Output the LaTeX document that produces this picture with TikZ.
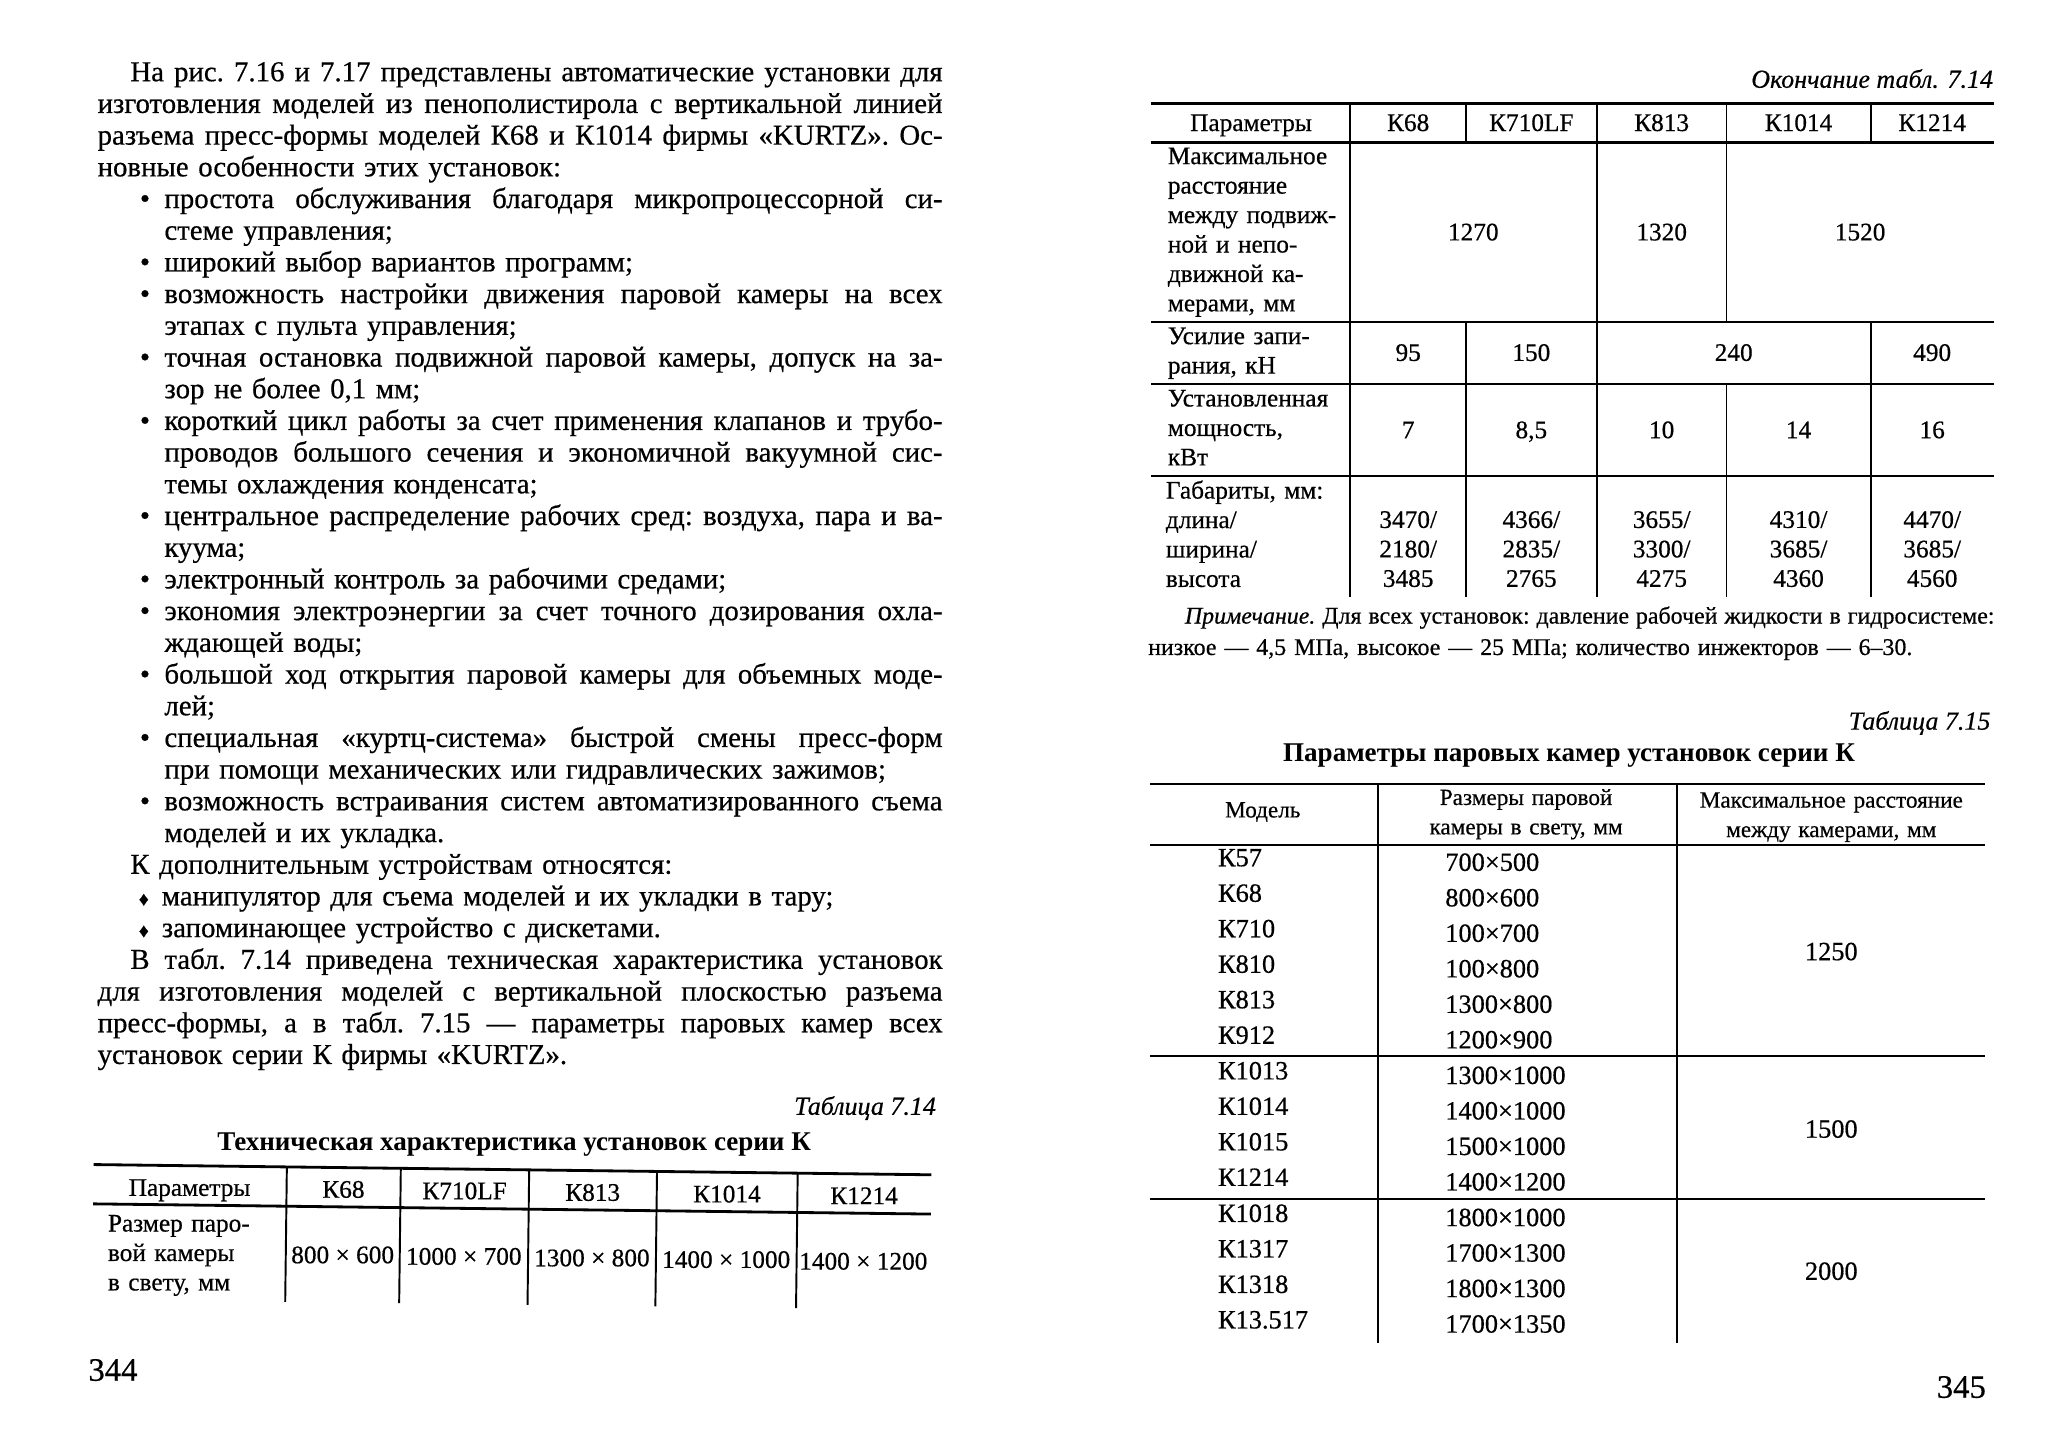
\documentclass[tikz,border=0pt]{standalone}
\usepackage{fontspec}
\setmainfont{Liberation Serif}[UprightFeatures={FakeBold=0.5}, ItalicFeatures={FakeBold=0.5}]
\usepackage{tikz}

\newlength{\px}
\setlength{\px}{0.131mm}
\newcommand{\bodyfont}{\fontsize{8.2}{9.02}\selectfont\frenchspacing}
\newcommand{\tabfont}{\fontsize{7.2}{8.38}\selectfont\frenchspacing}
\newcommand{\headfont}{\fontsize{6.6}{8.38}\selectfont}
\newcommand{\rowfont}{\fontsize{7.5}{10.1}\selectfont}
\newcommand{\notefont}{\fontsize{6.8}{8.94}\selectfont\frenchspacing}
\newcommand{\capfont}{\fontsize{7.4}{8.6}\selectfont\itshape}
\newcommand{\titlefont}{\fontsize{7.7}{9}\selectfont\bfseries}
\newcommand{\pagefont}{\fontsize{9.3}{11}\selectfont}
\newcommand{\natsp}{\spaceskip=0pt\xspaceskip=0pt\relax}
\newcommand{\jl}[2]{\makebox[#1\px][s]{\natsp #2}}
\newcommand{\bl}{\leavevmode\llap{\textbullet\hspace{11\px}}}
\newcommand{\dl}{\leavevmode\llap{{\fontsize{5.5}{6}\selectfont ♦}\hspace{10\px}}}

\tikzstyle{textBlock}=[anchor=base west, inner sep=0pt, text width=660\px, font=\bodyfont]
\tikzstyle{captionText}=[anchor=base east, inner sep=0pt, font=\capfont]
\tikzstyle{titleText}=[anchor=base, inner sep=0pt, font=\titlefont]
\tikzstyle{cellText}=[anchor=base, inner sep=0pt, font=\tabfont]
\tikzstyle{cellLeft}=[anchor=base west, inner sep=0pt, text width=150\px, font=\tabfont]
\tikzstyle{cellStack}=[anchor=base, inner sep=0pt, text width=70\px, font=\tabfont]
\tikzstyle{headStack}=[anchor=base, inner sep=0pt, text width=230\px, font=\headfont]
\tikzstyle{rowList}=[anchor=base west, inner sep=0pt, text width=120\px, font=\rowfont]
\tikzstyle{pageNum}=[inner sep=0pt, font=\pagefont]
\tikzstyle{ruleLine}=[line width=0.8pt]
\tikzstyle{gridLine}=[line width=0.55pt]

\begin{document}
\begin{tikzpicture}[x=0.131mm, y=-0.131mm]

        \fill[white] (0,0) rectangle (1568,1105);
        \useasboundingbox (0,0) rectangle (1568,1105);

        % Left page, running text
        \node[textBlock] (introPara) at (74,62) {\hspace*{25\px}\jl{620}{На рис. 7.16 и 7.17 представлены автоматические установки для}\\
            \jl{645}{изготовления моделей из пенополистирола с вертикальной линией}\\
            \jl{645}{разъема пресс-формы моделей К68 и К1014 фирмы «KURTZ». Ос-}\\
            новные особенности этих установок:};

        \node[textBlock] (featureList) at (125,158.8) {\bl\jl{594}{простота обслуживания благодаря микропроцессорной си-}\\
            стеме управления;\\
            \bl широкий выбор вариантов программ;\\
            \bl\jl{594}{возможность настройки движения паровой камеры на всех}\\
            этапах с пульта управления;\\
            \bl\jl{594}{точная остановка подвижной паровой камеры, допуск на за-}\\
            зор не более 0,1 мм;\\
            \bl\jl{594}{короткий цикл работы за счет применения клапанов и трубо-}\\
            \jl{594}{проводов большого сечения и экономичной вакуумной сис-}\\
            темы охлаждения конденсата;\\
            \bl\jl{594}{центральное распределение рабочих сред: воздуха, пара и ва-}\\
            куума;\\
            \bl электронный контроль за рабочими средами;\\
            \bl\jl{594}{экономия электроэнергии за счет точного дозирования охла-}\\
            ждающей воды;\\
            \bl\jl{594}{большой ход открытия паровой камеры для объемных моде-}\\
            лей;\\
            \bl\jl{594}{специальная «куртц-система» быстрой смены пресс-форм}\\
            при помощи механических или гидравлических зажимов;\\
            \bl\jl{594}{возможность встраивания систем автоматизированного съема}\\
            моделей и их укладка.};

        \node[textBlock] (extraHead) at (99,667) {К дополнительным устройствам относятся:};
        \node[textBlock] (extraList) at (123,691.2) {\dl манипулятор для съема моделей и их укладки в тару;\\
            \dl запоминающее устройство с дискетами.};

        \node[textBlock] (closePara) at (74,739.6) {\hspace*{25\px}\jl{620}{В табл. 7.14 приведена техническая характеристика установок}\\
            \jl{645}{для изготовления моделей с вертикальной плоскостью разъема}\\
            \jl{645}{пресс-формы, а в табл. 7.15 — параметры паровых камер всех}\\
            установок серии К фирмы «KURTZ».};

        % Left page, table 7.14
        \node[captionText] (capA) at (715,851) {Таблица 7.14};
        \node[titleText] (titleA) at (392.5,878) {Техническая характеристика установок серии К};

        \begin{scope}[rotate around={-0.7:(71.5,889)}]
            \draw[ruleLine] (71.5,889) -- (711,889);
            \draw[ruleLine] (71.5,919) -- (711,919);
            \draw[gridLine] (219,889) -- (219,992);
            \draw[gridLine] (306,889) -- (306,992);
            \draw[gridLine] (404,889) -- (404,992);
            \draw[gridLine] (501.6,889) -- (501.6,992);
            \draw[gridLine] (609,889) -- (609,992);

            \node[cellText] (aHead) at (145,912) {Параметры};
            \node[cellText] (aK68) at (262.5,912) {К68};
            \node[cellText] (aK710) at (355,912) {К710LF};
            \node[cellText] (aK813) at (452.8,912) {К813};
            \node[cellText] (aK1014) at (555.3,912) {К1014};
            \node[cellText] (aK1214) at (660,912) {К1214};

            \node[cellLeft] (aSize) at (82.5,940) {Размер паро-\\ вой камеры\\ в свету, мм};
            \node[cellText] (aV1) at (262.5,962) {800 × 600};
            \node[cellText] (aV2) at (355,962) {1000 × 700};
            \node[cellText] (aV3) at (452.8,962) {1300 × 800};
            \node[cellText] (aV4) at (555.3,962) {1400 × 1000};
            \node[cellText] (aV5) at (660,962) {1400 × 1200};
        \end{scope}

        \node[pageNum, anchor=base west] (pageLeft) at (67,1054) {344};

        % Right page, end of table 7.14
        \node[captionText] (capB) at (1522,67) {Окончание табл. 7.14};

        \draw[ruleLine] (879,79) -- (1522,79);
        \draw[ruleLine] (879,109) -- (1522,109);
        \draw[gridLine] (879,246) -- (1522,246);
        \draw[gridLine] (879,293.2) -- (1522,293.2);
        \draw[gridLine] (879,363.6) -- (1522,363.6);

        \draw[gridLine] (1030.5,79) -- (1030.5,456);
        \draw[gridLine] (1119,79) -- (1119,109);
        \draw[gridLine] (1119,246) -- (1119,456);
        \draw[gridLine] (1219,79) -- (1219,456);
        \draw[gridLine] (1318,79) -- (1318,246);
        \draw[gridLine] (1318,293.2) -- (1318,456);
        \draw[gridLine] (1428,79) -- (1428,109);
        \draw[gridLine] (1428,246) -- (1428,456);

        \node[cellText] (bHead) at (955,100) {Параметры};
        \node[cellText] (bK68) at (1075,100) {К68};
        \node[cellText] (bK710) at (1169,100) {К710LF};
        \node[cellText] (bK813) at (1268.5,100) {К813};
        \node[cellText] (bK1014) at (1373,100) {К1014};
        \node[cellText] (bK1214) at (1475,100) {К1214};

        \node[cellLeft] (bGap) at (891,125.3) {Максимальное\\ расстояние\\ между подвиж-\\ ной и непо-\\ движной ка-\\ мерами, мм};
        \node[cellText] (bGap1) at (1124.7,183.5) {1270};
        \node[cellText] (bGap2) at (1268.5,183.5) {1320};
        \node[cellText] (bGap3) at (1420,183.5) {1520};

        \node[cellLeft] (bForce) at (891,262.7) {Усилие запи-\\ рания, кН};
        \node[cellText] (bForce1) at (1075,275.5) {95};
        \node[cellText] (bForce2) at (1169,275.5) {150};
        \node[cellText] (bForce3) at (1323.5,275.5) {240};
        \node[cellText] (bForce4) at (1475,275.5) {490};

        \node[cellLeft] (bPower) at (891,310.3) {Установленная\\ мощность,\\ кВт};
        \node[cellText] (bPower1) at (1075,334.5) {7};
        \node[cellText] (bPower2) at (1169,334.5) {8,5};
        \node[cellText] (bPower3) at (1268.5,334.5) {10};
        \node[cellText] (bPower4) at (1373,334.5) {14};
        \node[cellText] (bPower5) at (1475,334.5) {16};

        \node[cellLeft] (bDims) at (889.5,380.6) {Габариты, мм:\\ длина/\\ ширина/\\ высота};
        \node[cellStack] (bDims1) at (1075,403) {\centering 3470/\\ 2180/\\ 3485\par};
        \node[cellStack] (bDims2) at (1169,403) {\centering 4366/\\ 2835/\\ 2765\par};
        \node[cellStack] (bDims3) at (1268.5,403) {\centering 3655/\\ 3300/\\ 4275\par};
        \node[cellStack] (bDims4) at (1373,403) {\centering 4310/\\ 3685/\\ 4360\par};
        \node[cellStack] (bDims5) at (1475,403) {\centering 4470/\\ 3685/\\ 4560\par};

        \node[textBlock, font=\notefont] (noteB) at (876,476) {\hspace*{28\px}\jl{618}{\textit{Примечание.} Для всех установок: давление рабочей жидкости в гидросистеме:}\\
            низкое — 4,5 МПа, высокое — 25 МПа; количество инжекторов — 6–30.};

        % Right page, table 7.15
        \node[captionText] (capC) at (1520,557) {Таблица 7.15};
        \node[titleText] (titleC) at (1197.8,581.5) {Параметры паровых камер установок серии К};

        \draw[ruleLine] (878,598.5) -- (1515.6,598.5);
        \draw[ruleLine] (878,645) -- (1515.6,645);
        \draw[gridLine] (878,806.2) -- (1515.6,806.2);
        \draw[gridLine] (878,915.5) -- (1515.6,915.5);
        \draw[gridLine] (1052,598.5) -- (1052,1025.5);
        \draw[gridLine] (1280,598.5) -- (1280,1025.5);

        \node[cellText, font=\headfont] (cModel) at (964,624) {Модель};
        \node[headStack] (cSize) at (1165,614.5) {\centering Размеры паровой\\ камеры в свету, мм\par};
        \node[headStack] (cGap) at (1398,616.5) {\centering Максимальное расстояние\\ между камерами, мм\par};

        \node[rowList] (cModelsA) at (929.3,661.3) {К57\\ К68\\ К710\\ К810\\ К813\\ К912};
        \node[rowList] (cSizesA) at (1102.8,664.8) {700×500\\ 800×600\\ 100×700\\ 100×800\\ 1300×800\\ 1200×900};
        \node[cellText, font=\rowfont] (cGapA) at (1398,733) {1250};

        \node[rowList] (cModelsB) at (929.3,824) {К1013\\ К1014\\ К1015\\ К1214};
        \node[rowList] (cSizesB) at (1102.8,827.5) {1300×1000\\ 1400×1000\\ 1500×1000\\ 1400×1200};
        \node[cellText, font=\rowfont] (cGapB) at (1398,868.5) {1500};

        \node[rowList] (cModelsC) at (929.3,932.8) {К1018\\ К1317\\ К1318\\ К13.517};
        \node[rowList] (cSizesC) at (1102.8,936) {1800×1000\\ 1700×1300\\ 1800×1300\\ 1700×1350};
        \node[cellText, font=\rowfont] (cGapC) at (1398,977) {2000};

        \node[pageNum, anchor=base east] (pageRight) at (1516.5,1067) {345};

\end{tikzpicture}
\end{document}
